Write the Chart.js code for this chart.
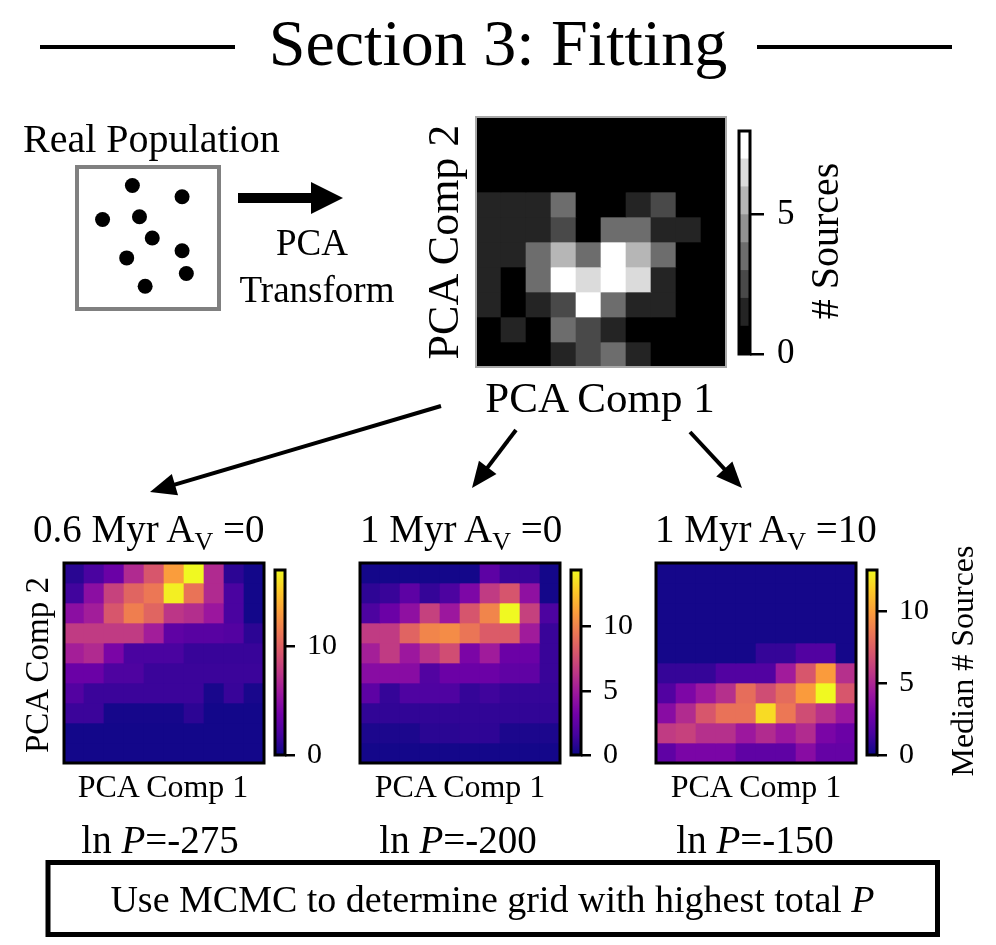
<!DOCTYPE html>
<html>
<head>
<meta charset="utf-8">
<title>Section 3: Fitting</title>
<script src="https://cdn.jsdelivr.net/npm/chart.js@4.4.1/dist/chart.umd.min.js"></script>
<style>
body { margin: 0; background: #fff; }
#fig { position: relative; width: 996px; height: 945px; overflow: hidden; background: #fff; }
#fig canvas { position: absolute; }
#overlay { position: absolute; left: 0; top: 0; }
</style>
</head>
<body>
<div id="fig">
	<canvas id="popChart"></canvas>
	<canvas id="realMap"></canvas>
	<canvas id="realBar"></canvas>
	<canvas id="youngMap"></canvas>
	<canvas id="youngBar"></canvas>
	<canvas id="midMap"></canvas>
	<canvas id="midBar"></canvas>
	<canvas id="oldMap"></canvas>
	<canvas id="oldBar"></canvas>
	<svg id="overlay" width="996" height="945" font-family="'Liberation Serif', 'Times New Roman', serif" fill="#000">
		<line x1="40" y1="47" x2="235" y2="47" stroke="#000" stroke-width="4"/>
		<line x1="757" y1="47" x2="952" y2="47" stroke="#000" stroke-width="4"/>
		<text x="498" y="65" font-size="66" text-anchor="middle">Section 3: Fitting</text>
		<text x="23" y="152" font-size="40">Real Population</text>
		<polygon points="238,193 311,193 311,182 343,198 311,214 311,203 238,203"/>
		<text x="312" y="255" font-size="37" text-anchor="middle">PCA</text>
		<text x="317" y="302" font-size="37" text-anchor="middle">Transform</text>
		<text transform="translate(458,242) rotate(-90)" font-size="44" text-anchor="middle">PCA Comp 2</text>
		<text transform="translate(838,241) rotate(-90)" font-size="40" text-anchor="middle"># Sources</text>
		<text x="600" y="412" font-size="43" text-anchor="middle">PCA Comp 1</text>
		<text x="33" y="542" font-size="39">0.6 Myr A<tspan font-size="26" dy="8">V</tspan><tspan dy="-8"> =0</tspan></text>
		<text x="360" y="542" font-size="39">1 Myr A<tspan font-size="26" dy="8">V</tspan><tspan dy="-8"> =0</tspan></text>
		<text x="655" y="542" font-size="39">1 Myr A<tspan font-size="26" dy="8">V</tspan><tspan dy="-8"> =10</tspan></text>
		<text transform="translate(48,665) rotate(-90)" font-size="33" text-anchor="middle">PCA Comp 2</text>
		<text transform="translate(973,661) rotate(-90)" font-size="32" text-anchor="middle">Median # Sources</text>
		<text x="163" y="797" font-size="32" text-anchor="middle">PCA Comp 1</text>
		<text x="460" y="797" font-size="32" text-anchor="middle">PCA Comp 1</text>
		<text x="756" y="797" font-size="32" text-anchor="middle">PCA Comp 1</text>
		<text x="160" y="853" font-size="39" text-anchor="middle">ln <tspan font-style="italic">P</tspan>=-275</text>
		<text x="458" y="853" font-size="39" text-anchor="middle">ln <tspan font-style="italic">P</tspan>=-200</text>
		<text x="755" y="853" font-size="39" text-anchor="middle">ln <tspan font-style="italic">P</tspan>=-150</text>
		<rect x="48" y="862.5" width="889.5" height="72" fill="none" stroke="#000" stroke-width="5"/>
		<text x="492.5" y="912" font-size="38" text-anchor="middle">Use MCMC to determine grid with highest total <tspan font-style="italic">P</tspan></text>
	</svg>
</div>
<script>
"use strict";

Chart.defaults.font.family = "'Liberation Serif', 'Times New Roman', serif";
Chart.defaults.color = "#000";

// sketch of the real population (arbitrary units, 0..10)
const popX = [3.9, 7.4, 1.8, 4.4, 5.3, 7.4, 3.5, 7.7, 4.8];
const popY = [8.7, 7.9, 6.3, 6.5, 5.0, 4.1, 3.6, 2.5, 1.6];

// real population binned in PCA space, rows listed top to bottom
const realCounts = [
	[0, 0, 0, 0, 0, 0, 0, 0, 0, 0],
	[0, 0, 0, 0, 0, 0, 0, 0, 0, 0],
	[0, 0, 0, 0, 0, 0, 0, 0, 0, 0],
	[1, 1, 1, 3, 0, 0, 1, 2, 0, 0],
	[1, 1, 1, 2, 0, 3, 3, 1, 1, 0],
	[1, 1, 3, 5, 3, 7, 5, 3, 0, 0],
	[1, 0, 3, 7, 6, 7, 6, 1, 0, 0],
	[1, 0, 1, 2, 7, 3, 1, 1, 0, 0],
	[0, 1, 0, 3, 2, 1, 0, 0, 0, 0],
	[0, 0, 0, 1, 2, 3, 1, 0, 0, 0]
];
const realLevels = [0, 1, 2, 3, 4, 5, 6, 7];
const realMax = 8;
const realTicks = [0, 5];

// median model grids, rows listed top to bottom
const youngGrid = [ // 0.6 Myr, Av = 0
	[0.9, 2.0, 3.4, 6.8, 9.4, 13.1, 17.0, 6.8, 1.0, 0.2],
	[1.7, 4.9, 8.2, 10.2, 11.2, 16.6, 11.0, 6.8, 2.0, 0.2],
	[4.9, 6.0, 9.4, 11.6, 10.2, 7.5, 7.0, 5.6, 2.0, 0.2],
	[7.8, 7.8, 7.8, 7.8, 6.0, 2.9, 2.6, 2.6, 2.4, 1.0],
	[6.1, 6.8, 4.1, 2.0, 2.0, 2.0, 1.4, 1.4, 1.4, 1.4],
	[3.4, 3.4, 2.2, 2.2, 1.5, 1.5, 1.5, 1.5, 1.5, 1.5],
	[2.4, 1.5, 1.5, 1.5, 1.5, 1.5, 1.5, 0.4, 1.4, 0.4],
	[1.5, 1.5, 0.3, 0.3, 0.3, 0.3, 1.0, 0.2, 0.2, 0.2],
	[0.2, 0.2, 0.2, 0.2, 0.2, 0.2, 0.2, 0.2, 0.2, 0.2],
	[0.2, 0.2, 0.2, 0.2, 0.2, 0.2, 0.2, 0.2, 0.2, 0.2]
];
const youngMax = 17;
const youngTicks = [0, 10];

const midGrid = [ // 1 Myr, Av = 0
	[0.2, 0.2, 0.2, 0.2, 0.2, 0.2, 2.4, 1.2, 1.2, 0.2],
	[0.9, 1.2, 2.4, 1.1, 1.8, 3.6, 6.6, 7.9, 4.3, 0.2],
	[1.8, 2.9, 4.3, 6.9, 4.8, 7.9, 10.1, 14.4, 6.9, 1.8],
	[6.6, 6.6, 8.6, 10.1, 10.4, 9.4, 8.2, 8.2, 5.0, 1.2],
	[5.2, 6.6, 4.8, 6.2, 7.5, 3.5, 5.0, 2.9, 2.9, 1.2],
	[4.0, 4.0, 4.0, 2.0, 2.9, 2.9, 2.9, 2.5, 2.5, 1.2],
	[2.4, 1.1, 1.9, 1.9, 1.9, 1.1, 1.4, 1.1, 1.1, 1.1],
	[1.0, 1.0, 1.0, 1.0, 1.0, 1.0, 1.0, 1.0, 1.0, 1.0],
	[0.4, 0.4, 0.4, 0.8, 0.8, 0.9, 0.9, 0.4, 0.4, 0.4],
	[0.2, 0.2, 0.2, 0.2, 0.2, 0.2, 0.2, 0.2, 0.2, 0.2]
];
const midMax = 14.4;
const midTicks = [0, 5, 10];

const oldGrid = [ // 1 Myr, Av = 10
	[0.2, 0.2, 0.2, 0.2, 0.2, 0.2, 0.2, 0.2, 0.2, 0.2],
	[0.2, 0.2, 0.2, 0.2, 0.2, 0.2, 0.2, 0.2, 0.2, 0.2],
	[0.2, 0.2, 0.2, 0.2, 0.2, 0.2, 0.2, 0.2, 0.2, 0.2],
	[0.2, 0.2, 0.2, 0.2, 0.2, 0.2, 0.2, 0.2, 0.2, 0.2],
	[0.2, 0.2, 0.2, 0.2, 0.2, 1.0, 1.0, 1.8, 1.8, 0.2],
	[1.0, 1.0, 1.0, 1.8, 1.8, 1.8, 4.5, 7.1, 9.9, 5.4],
	[1.8, 3.2, 4.3, 5.4, 8.1, 6.7, 8.0, 9.9, 12.9, 7.1],
	[3.6, 5.2, 7.1, 8.3, 8.3, 12.0, 8.5, 6.7, 5.5, 4.3],
	[5.9, 6.2, 5.4, 5.4, 4.3, 5.2, 4.3, 5.2, 3.1, 2.6],
	[2.2, 3.1, 3.1, 3.1, 2.2, 2.2, 2.2, 3.6, 2.4, 2.4]
];
const oldMax = 12.9;
const oldTicks = [0, 5, 10];

// matplotlib plasma, sampled at 10 even steps
const plasmaStops = ["#0d0887", "#47039f", "#7301a8", "#9c179e", "#bd3786", "#d8576b", "#ed7953", "#fb9f3a", "#fdca26", "#f0f921"];

const hexToRgb = hex => [1, 3, 5].map(i => parseInt(hex.slice(i, i + 2), 16));

const plasma = t => {
	t = Math.min(1, Math.max(0, t));
	let pos = t * (plasmaStops.length - 1);
	let i = Math.min(Math.floor(pos), plasmaStops.length - 2);
	let f = pos - i;
	let a = hexToRgb(plasmaStops[i]);
	let b = hexToRgb(plasmaStops[i + 1]);
	return `rgb(${a.map((v, k) => Math.round(v + (b[k] - v) * f)).join(",")})`;
};

const gray = t => {
	let v = Math.round(255 * Math.min(1, Math.max(0, t)));
	return `rgb(${v},${v},${v})`;
};

const framePlugin = {
	id: "frame",
	afterDraw: (chart, args, opts) => {
		let {ctx, chartArea} = chart;
		ctx.save();
		ctx.strokeStyle = opts.color;
		ctx.lineWidth = opts.width;
		ctx.strokeRect(chartArea.left, chartArea.top, chartArea.right - chartArea.left, chartArea.bottom - chartArea.top);
		ctx.restore();
	}
};

const place = (id, left, top, width, height) => {
	let canvas = document.getElementById(id);
	canvas.width = width;
	canvas.height = height;
	canvas.style.left = left + "px";
	canvas.style.top = top + "px";
	canvas.style.width = width + "px";
	canvas.style.height = height + "px";
	return canvas;
};

const quiet = {legend: {display: false}, tooltip: {enabled: false}};

// each grid row becomes one dataset of floating bars [row, row + 1]
const buildHeatmap = (id, box, grid, colorOf, frame) => {
	let pad = 3;
	let canvas = place(id, box.x - pad, box.y - pad, box.w + 2 * pad, box.h + 2 * pad);
	let rowCount = grid.length;
	let datasets = grid.map((row, rowIndex) => ({
		data: row.map(() => [rowCount - rowIndex - 1, rowCount - rowIndex]),
		backgroundColor: row.map(colorOf)
	}));
	new Chart(canvas, {
		type: "bar",
		data: {
			labels: grid[0].map((value, columnIndex) => columnIndex),
			datasets: datasets
		},
		options: {
			responsive: false,
			animation: false,
			layout: {padding: pad, autoPadding: false},
			datasets: {
				bar: {grouped: false, barPercentage: 1, categoryPercentage: 1, borderWidth: 0}
			},
			scales: {
				x: {display: false},
				y: {display: false, min: 0, max: rowCount}
			},
			plugins: Object.assign({frame: frame}, quiet)
		},
		plugins: [framePlugin]
	});
};

const buildColorbar = (id, box, vmax, ticks, datasets, style) => {
	let pad = 3;
	let padV = 22;
	let axisWidth = 70;
	let canvas = place(id, box.x - pad, box.y - padV, box.w + pad + axisWidth, box.h + 2 * padV);
	new Chart(canvas, {
		type: "bar",
		data: {labels: ["cb"], datasets: datasets},
		options: {
			responsive: false,
			animation: false,
			layout: {padding: {left: pad, right: 0, top: padV, bottom: padV}, autoPadding: false},
			datasets: {
				bar: {grouped: false, barPercentage: 1, categoryPercentage: 1, borderWidth: 0}
			},
			scales: {
				x: {display: false},
				y: {
					position: "right",
					min: 0,
					max: vmax,
					afterFit: scale => { scale.width = axisWidth; },
					afterBuildTicks: scale => { scale.ticks = ticks.map(value => ({value: value})); },
					ticks: {font: {size: style.fontSize}, padding: style.tickPad, color: "#000"},
					grid: {drawOnChartArea: false, drawTicks: true, tickLength: style.tickLength, color: "#000", lineWidth: 2.5},
					border: {display: false}
				}
			},
			plugins: Object.assign({frame: {color: "#000", width: 3}}, quiet)
		},
		plugins: [framePlugin]
	});
};

const plasmaFill = context => {
	let {ctx, chartArea} = context.chart;
	if (!chartArea) {
		return plasmaStops[0];
	}
	let gradient = ctx.createLinearGradient(0, chartArea.bottom, 0, chartArea.top);
	plasmaStops.forEach((color, i) => gradient.addColorStop(i / (plasmaStops.length - 1), color));
	return gradient;
};

// population sketch
new Chart(place("popChart", 75, 165, 146, 146), {
	type: "scatter",
	data: {
		datasets: [{
			data: popX.map((x, i) => ({x: x, y: popY[i]})),
			pointRadius: 7.5,
			pointBackgroundColor: "#000",
			pointBorderWidth: 0
		}]
	},
	options: {
		responsive: false,
		animation: false,
		layout: {padding: 2, autoPadding: false},
		scales: {
			x: {display: false, min: 0, max: 10},
			y: {display: false, min: 0, max: 10}
		},
		plugins: Object.assign({frame: {color: "#808080", width: 4}}, quiet)
	},
	plugins: [framePlugin]
});

// real population map
const realTop = realLevels[realLevels.length - 1];
buildHeatmap("realMap", {x: 476, y: 117, w: 250, h: 250}, realCounts, v => gray(v / realTop), {color: "#a8a8a8", width: 2});
buildColorbar("realBar", {x: 739, y: 119, w: 11, h: 247}, realMax, realTicks,
	realLevels.map(level => ({data: [[level, level + 1]], backgroundColor: gray(level / realTop)})),
	{fontSize: 35, tickPad: 13, tickLength: 14});

// model grids
const modelPanels = [
	{map: "youngMap", bar: "youngBar", grid: youngGrid, vmax: youngMax, ticks: youngTicks, x: 64, barX: 275},
	{map: "midMap", bar: "midBar", grid: midGrid, vmax: midMax, ticks: midTicks, x: 360, barX: 571},
	{map: "oldMap", bar: "oldBar", grid: oldGrid, vmax: oldMax, ticks: oldTicks, x: 656, barX: 867}
];
for (let panel of modelPanels) {
	buildHeatmap(panel.map, {x: panel.x, y: 563, w: 200, h: 200}, panel.grid, v => plasma(v / panel.vmax), {color: "#000", width: 3});
	buildColorbar(panel.bar, {x: panel.barX, y: 562, w: 10, h: 201}, panel.vmax, panel.ticks,
		[{data: [[0, panel.vmax]], backgroundColor: plasmaFill}],
		{fontSize: 30, tickPad: 12, tickLength: 10});
}

// connecting arrows
const drawArrow = (x1, y1, x2, y2) => {
	let svg = document.getElementById("overlay");
	let ns = "http://www.w3.org/2000/svg";
	let len = Math.hypot(x2 - x1, y2 - y1);
	let ux = (x2 - x1) / len;
	let uy = (y2 - y1) / len;
	let headLen = 26;
	let headHalf = 11;
	let bx = x2 - ux * headLen;
	let by = y2 - uy * headLen;
	let line = document.createElementNS(ns, "line");
	line.setAttribute("x1", x1);
	line.setAttribute("y1", y1);
	line.setAttribute("x2", bx + ux * 2);
	line.setAttribute("y2", by + uy * 2);
	line.setAttribute("stroke", "#000");
	line.setAttribute("stroke-width", 4);
	svg.appendChild(line);
	let head = document.createElementNS(ns, "polygon");
	head.setAttribute("points", [
		[x2, y2],
		[bx - uy * headHalf, by + ux * headHalf],
		[bx + uy * headHalf, by - ux * headHalf]
	].map(p => p.join(",")).join(" "));
	svg.appendChild(head);
};
drawArrow(441, 406, 150, 492);
drawArrow(516, 430, 472, 488);
drawArrow(690, 432, 742, 488);
</script>
</body>
</html>
